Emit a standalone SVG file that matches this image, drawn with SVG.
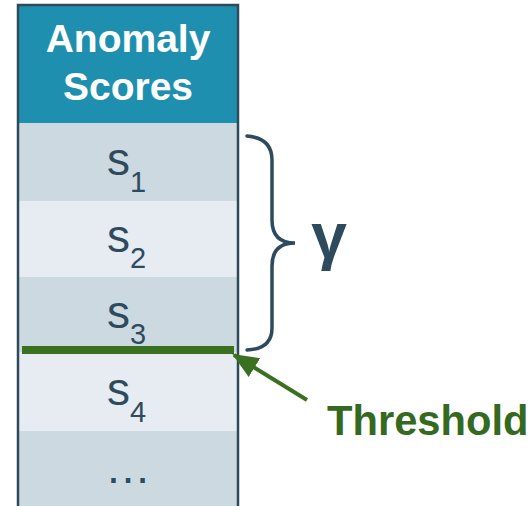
<svg xmlns="http://www.w3.org/2000/svg" width="532" height="506" viewBox="0 0 532 506">
<style>
.lbl{font-family:"Liberation Sans",Arial,sans-serif;fill:#2e4b5e}
.s{font-size:46px}
.sub{font-size:29px}
.hdr{font-family:"Liberation Sans",Arial,sans-serif;font-weight:bold;font-size:39px;fill:#ffffff}
.dark{fill:#ccd9e1}
.light{fill:#e7ebf2}
</style>
<defs>
<marker id="ah" markerWidth="26" markerHeight="22" refX="24" refY="11" orient="auto" markerUnits="userSpaceOnUse" viewBox="0 0 26 22">
<path d="M0,0 L26,11 L0,22 z" fill="#3a7120"/>
</marker>
</defs>
<rect x="0" y="0" width="532" height="506" fill="#ffffff"/>
<g id="header">
<rect x="18" y="5" width="220" height="118" fill="#1f8fb0"/>
<text class="hdr" x="128" y="52" text-anchor="middle">Anomaly</text>
<text class="hdr" x="128" y="100" text-anchor="middle">Scores</text>
</g>
<g id="row1">
<rect class="dark" x="18" y="123" width="220" height="78"/>
<text class="lbl" x="107" y="175"><tspan class="s">s</tspan><tspan class="sub" dy="17">1</tspan></text>
</g>
<g id="row2">
<rect class="light" x="18" y="201" width="220" height="76"/>
<text class="lbl" x="107" y="252"><tspan class="s">s</tspan><tspan class="sub" dy="16">2</tspan></text>
</g>
<g id="row3">
<rect class="dark" x="18" y="277" width="220" height="75"/>
<text class="lbl" x="107" y="328"><tspan class="s">s</tspan><tspan class="sub" dy="16">3</tspan></text>
</g>
<g id="row4">
<rect class="light" x="18" y="352" width="220" height="79"/>
<text class="lbl" x="107" y="405"><tspan class="s">s</tspan><tspan class="sub" dy="17">4</tspan></text>
</g>
<g id="row5">
<rect class="dark" x="18" y="431" width="220" height="80"/>
<text class="lbl" x="128" y="483" text-anchor="middle" font-size="46">…</text>
</g>
<g id="frame">
<path d="M18,520 L18,5 L238,5 L238,520" fill="none" stroke="#2e4b5e" stroke-width="2.5"/>
</g>
<g id="threshold-line">
<rect x="22" y="346" width="212" height="8" fill="#3a7120"/>
</g>
<g id="brace">
<path d="M247,136 Q272,138 272,160 L272,220 Q272,243 295,243 Q272,243 272,266 L272,328 Q272,349 247,350" fill="none" stroke="#2e4b5e" stroke-width="3.5" stroke-linecap="round"/>
<text x="329" y="258" text-anchor="middle" font-family="'Liberation Sans',Arial,sans-serif" font-weight="bold" font-size="64" fill="#2e4b5e">γ</text>
</g>
<g id="connectors">
<line x1="307" y1="400" x2="234" y2="355" stroke="#3a7120" stroke-width="4" marker-end="url(#ah)"/>
</g>
<g id="threshold-label">
<text x="327" y="435" font-family="'Liberation Sans',Arial,sans-serif" font-weight="bold" font-size="41.7" fill="#34691f">Threshold</text>
</g>
</svg>
